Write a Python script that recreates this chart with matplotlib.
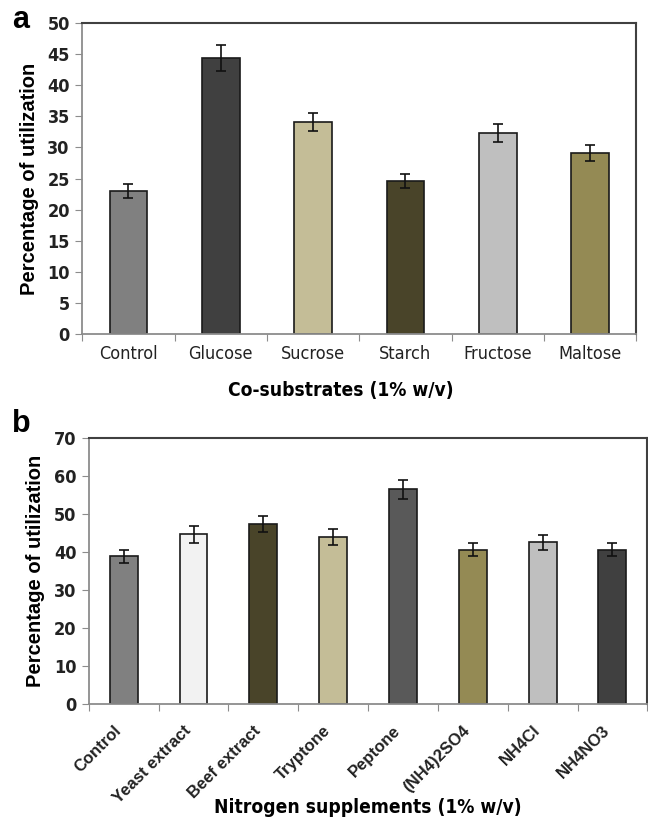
import numpy as np
import matplotlib
matplotlib.use("Agg")
import matplotlib.pyplot as plt

# panel a: co-substrates
subs_labels = ["Control", "Glucose", "Sucrose", "Starch", "Fructose", "Maltose"]
subs_values = [23.0, 44.4, 34.1, 24.6, 32.3, 29.1]
subs_errors = [1.1, 2.1, 1.5, 1.1, 1.5, 1.3]
subs_colors = ["#808080", "#404040", "#C4BD97", "#494429", "#BFBFBF", "#948A54"]

# panel b: nitrogen supplements
nitro_labels = ["Control", "Yeast extract", "Beef extract", "Tryptone", "Peptone",
                "(NH4)2SO4", "NH4Cl", "NH4NO3"]
nitro_values = [38.9, 44.7, 47.3, 44.0, 56.6, 40.6, 42.6, 40.6]
nitro_errors = [1.7, 2.3, 2.1, 2.1, 2.5, 1.7, 2.0, 1.7]
nitro_colors = ["#808080", "#F2F2F2", "#494429", "#C4BD97", "#595959",
                "#948A54", "#BFBFBF", "#404040"]

narrow = dict(family="DejaVu Sans", fontstretch="condensed")
wide = dict(family="Liberation Sans")
axis_grey = "#8C8C8C"


def style_axes(ax, n, ymax, ystep, labels, rotate):
    ax.set_xlim(-0.5, n - 0.5)
    ax.set_ylim(0, ymax)
    ax.set_yticks(np.arange(0, ymax + 1, ystep))
    ax.set_yticklabels([str(v) for v in np.arange(0, ymax + 1, ystep)],
                       fontweight="bold", fontsize=13, color="#222222", **narrow)
    # category borders get the ticks, centres get the labels
    ax.set_xticks(np.arange(n + 1) - 0.5)
    ax.set_xticklabels([])
    ax.set_xticks(np.arange(n), minor=True)
    if rotate:
        ax.set_xticklabels(labels, minor=True, rotation=45, ha="right", va="bottom",
                           rotation_mode="anchor", fontweight="bold",
                           fontsize=12, color="#222222", **wide)
        ax.tick_params(axis="x", which="minor", length=0, pad=21)
    else:
        ax.set_xticklabels(labels, minor=True, fontsize=13, color="#222222", **narrow)
        ax.tick_params(axis="x", which="minor", length=0, pad=8)
    ax.tick_params(axis="x", which="major", length=5, color=axis_grey, direction="out")
    ax.tick_params(axis="y", length=5, color=axis_grey, direction="out", pad=4)
    ax.spines["left"].set_color(axis_grey)
    ax.spines["bottom"].set_color(axis_grey)
    ax.spines["left"].set_linewidth(1.3)
    ax.spines["bottom"].set_linewidth(1.3)
    ax.spines["top"].set_color("#404040")
    ax.spines["right"].set_color("#404040")
    ax.spines["top"].set_linewidth(1.5)
    ax.spines["right"].set_linewidth(1.5)


fig = plt.figure(figsize=(6.48, 8.19), dpi=100)

axA = fig.add_axes((0.127, 0.592, 0.855, 0.380))
xa = np.arange(len(subs_labels))
axA.bar(xa, subs_values, width=0.41, color=subs_colors, edgecolor="#1a1a1a",
        linewidth=1.2, zorder=2)
axA.errorbar(xa, subs_values, yerr=subs_errors, fmt="none", ecolor="#111111",
             elinewidth=1.2, capsize=3.5, capthick=1.2, zorder=3)
style_axes(axA, len(subs_labels), 50, 5, subs_labels, rotate=False)
axA.set_ylabel("Percentage of utilization", fontweight="bold",
               fontsize=14.5, labelpad=6, **wide)
axA.set_xlabel("Co-substrates (1% w/v)", fontweight="bold", fontsize=13.8, **narrow)
axA.xaxis.set_label_coords(0.466, -0.15)
fig.text(0.018, 0.975, "a", fontweight="bold", fontsize=22, va="center", **wide)

axB = fig.add_axes((0.137, 0.140, 0.862, 0.325))
xb = np.arange(len(nitro_labels))
axB.bar(xb, nitro_values, width=0.40, color=nitro_colors, edgecolor="#1a1a1a",
        linewidth=1.2, zorder=2)
axB.errorbar(xb, nitro_values, yerr=nitro_errors, fmt="none", ecolor="#111111",
             elinewidth=1.2, capsize=3.5, capthick=1.2, zorder=3)
style_axes(axB, len(nitro_labels), 70, 10, nitro_labels, rotate=True)
axB.set_ylabel("Percentage of utilization", fontweight="bold",
               fontsize=14.5, labelpad=6, **wide)
axB.set_xlabel("Nitrogen supplements (1% w/v)", fontweight="bold", fontsize=13.8, **narrow)
axB.xaxis.set_label_coords(0.5, -0.35)
fig.text(0.018, 0.482, "b", fontweight="bold", fontsize=22, va="center", **wide)

fig.savefig("out.png", dpi=100)
